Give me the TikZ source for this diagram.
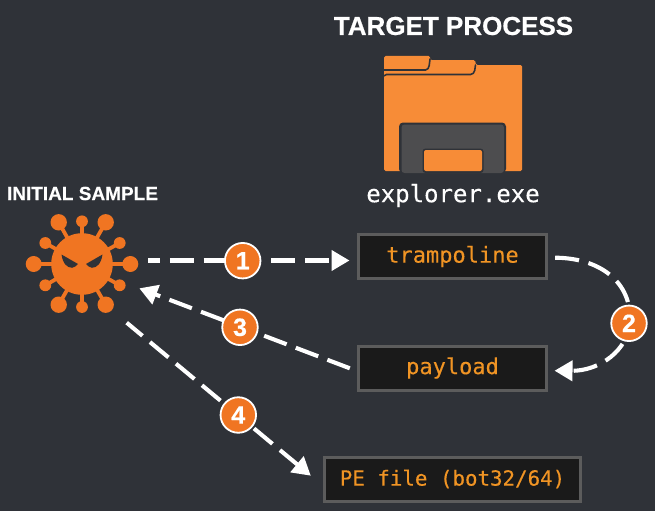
\documentclass[tikz,border=0pt]{standalone}
\usepackage{fontspec}
\setmainfont{Liberation Sans}
\newfontfamily\monof{DejaVu Sans Mono}
\newfontfamily\monob[FakeBold=0.25]{DejaVu Sans Mono}
\newfontfamily\headf[FakeBold=0.5]{Liberation Sans Bold}
\usetikzlibrary{arrows.meta}
\definecolor{bgc}{HTML}{2F3238}
\definecolor{orangev}{HTML}{F07522}
\definecolor{orangef}{HTML}{F78C37}
\definecolor{doorc}{HTML}{4D4D4F}
\definecolor{boxfill}{HTML}{1A1A1A}
\definecolor{boxline}{HTML}{5C5C5C}
\definecolor{codec}{HTML}{F09424}
\tikzset{
  codebox/.style={draw=boxline,fill=boxfill,line width=3pt,outer sep=0pt,inner sep=0pt,text=codec,font=\monob\fontsize{22}{22}\selectfont,minimum height=44pt},
  conn/.style={draw=white,line width=4.1pt,dash pattern=on 24pt off 9.8pt,-{Triangle[length=18pt,width=20pt]}},
  badge/.style={circle,draw=white,fill=orangev,line width=1.8pt,minimum size=35.5pt,inner sep=0pt,text=white,font=\headf\fontsize{25}{25}\selectfont},
  head/.style={text=white,inner sep=0pt}
}
\begin{document}
\begin{tikzpicture}[x=1pt,y=-1pt]
\useasboundingbox[fill=bgc] (0,0) rectangle (655,511);
% titles
\node[head,font=\headf\fontsize{26}{26}\selectfont] (target) at (453.5,26) {TARGET PROCESS};
\node[head,font=\headf\fontsize{19}{19}\selectfont] (initial) at (82.5,193.5) {INITIAL SAMPLE};
\node[text=white,inner sep=0pt,font=\monob\fontsize{24}{24}\selectfont] (explorer) at (453,195.5) {explorer.exe};
% folder
\fill[orangef,rounded corners=1.5pt] (384,76) -- (384,56) -- (430,56) -- (430,60) -- (475,60) -- (476,65) -- (522,65) -- (522,171) -- (384,171) -- cycle;
\draw[bgc,line width=1.6pt,line cap=round,rounded corners=1.5pt] (383,70) -- (427,70) -- (429,67) -- (430,59);
\draw[bgc,line width=1.6pt,line cap=round,rounded corners=1.5pt] (384,76) -- (385,74.5) -- (472,74.5) -- (474.5,72) -- (475.5,65);
\fill[bgc,rounded corners=4pt] (399,173) -- (399,122.5) -- (506,122.5) -- (506,173) -- cycle;
\fill[doorc,rounded corners=3pt] (401.5,173) -- (401.5,124.5) -- (504,124.5) -- (504,173) -- cycle;
\fill[bgc,rounded corners=3pt] (422.5,173) -- (422.5,148.5) -- (483.5,148.5) -- (483.5,173) -- cycle;
\fill[orangef,rounded corners=2pt] (424,171) -- (424,150) -- (482,150) -- (482,171) -- cycle;
% virus
\begin{scope}[shift={(82,264)}]
  \foreach \a/\b/\r in {-23.3/-41.7/8.2,23.7/-41.7/8.2,-48.3/0/8,48.3/0/8,-23.3/40.7/8.2,23.7/40.7/8.2,0/-42.7/5.9,0/43/5.9,-36.7/-21/5.9,37.7/-21/5.9,-36.7/21.3/5.9,37.7/21.3/5.9}{
    \draw[orangev,line width=3.8pt] (0,0) -- (\a,\b);
    \fill[orangev] (\a,\b) circle[radius=\r];
  }
  \fill[orangev] (0,0) circle[radius=30.8];
  \fill[bgc] (-20.5,-9.5) -- (-4,0) .. controls (-6,2) and (-7.5,3.5) .. (-10,3.8) .. controls (-15,3.5) and (-19,0) .. cycle;
  \fill[bgc] (20.5,-9.5) -- (4,0) .. controls (6,2) and (7.5,3.5) .. (10,3.8) .. controls (15,3.5) and (19,0) .. cycle;
\end{scope}
% boxes
\node[codebox,minimum width=188pt] (tramp) at (452.5,256.5) {\raisebox{-2pt}{trampoline}};
\node[codebox,minimum width=188pt] (pay) at (452.5,368) {\raisebox{-1pt}{payload}};
\node[codebox,minimum width=256pt,font=\monob\fontsize{20.8}{21}\selectfont] (pe) at (452.5,479) {\raisebox{-1pt}{PE file (bot32/64)}};
% free ends at the virus
\coordinate (v1) at (148,260.5);
\coordinate (v3) at (139.3,288.3);
\coordinate (v4) at (126.7,322.7);
% connectors
\draw[conn,dash phase=12pt] (v1) -- ([shift={(-9,4)}]tramp.west);
\draw[conn] ([shift={(-8.7,0.3)}]pay.west) -- (v3);
\draw[conn,dash phase=3.5pt] (v4) -- ([shift={(-13.7,-3.3)}]pe.west);
\draw[conn] ([shift={(8.7,1.2)}]tramp.east) .. controls (600,258) and (632,282) .. (630,322) .. controls (628,350) and (600,371) .. ([shift={(8,2.7)}]pay.east);
% badges
\node[badge] (b1) at (242.7,260.7) {1};
\node[badge] (b3) at (240,327.3) {3};
\node[badge] (b4) at (238.3,415) {4};
\node[badge] (b2) at (629,323.3) {2};
\end{tikzpicture}
\end{document}
